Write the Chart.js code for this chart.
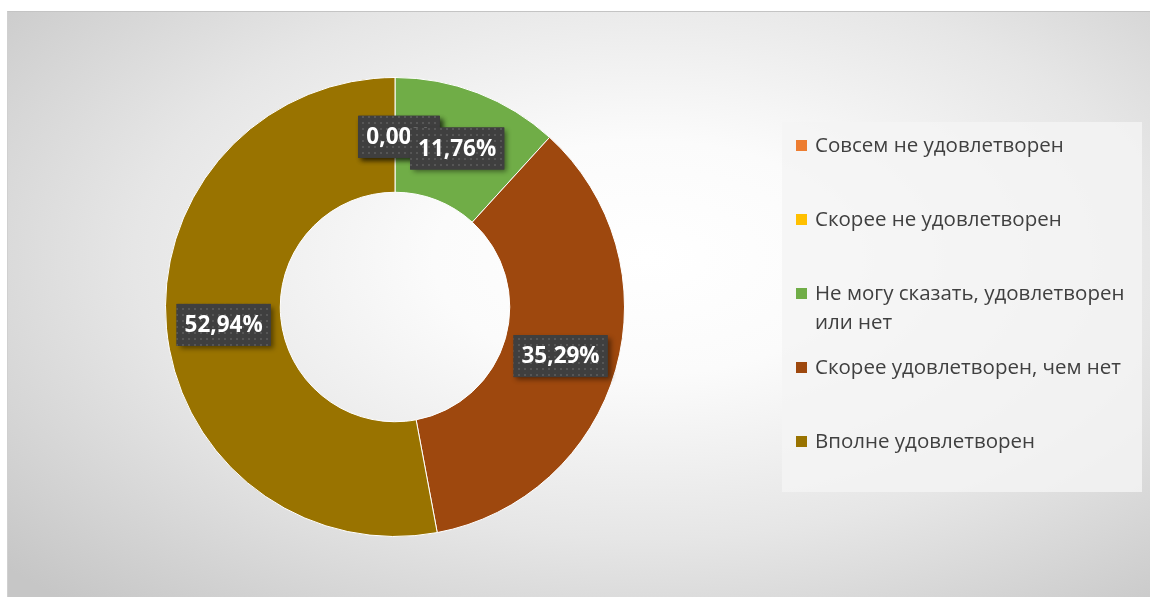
<!DOCTYPE html>
<html>
<head>
<meta charset="utf-8">
<script src="https://cdn.jsdelivr.net/npm/chart.js@4.4.1/dist/chart.umd.min.js"></script>
<style>
  html, body { margin: 0; padding: 0; background: #ffffff; width: 1150px; height: 597px; overflow: hidden; }
  #frame {
    position: absolute; left: 7px; top: 11px; width: 1143px; height: 586px;
    background: radial-gradient(ellipse 75% 80% at 56% 42%, #ffffff 0%, #fbfbfb 25%, #e6e6e6 60%, #c6c6c6 100%);
    border-top: 1px solid #c4c4c4; border-left: 1px solid #d0d0d0; box-sizing: border-box;
  }
  #c { position: absolute; left: 0; top: 0; }
  #legend {
    position: absolute; left: 782px; top: 122px; width: 360px; height: 370px;
    background: rgba(244,244,244,0.82); box-sizing: border-box; padding: 8px 0 0 14px;
    font-family: "Open Sans", "DejaVu Sans", sans-serif; font-size: 20.5px; color: #404040;
  }
  .item { position: relative; height: 74px; padding-left: 19px; line-height: 29px; width: 322px; }
  .sw { position: absolute; left: 0; top: 9.5px; width: 11px; height: 11px; }
</style>
</head>
<body>
<div id="frame"></div>
<canvas id="c" width="1150" height="597"></canvas>
<div id="legend"></div>
<script>
const categories = [
  "Совсем не удовлетворен",
  "Скорее не удовлетворен",
  "Не могу сказать, удовлетворен или нет",
  "Скорее удовлетворен, чем нет",
  "Вполне удовлетворен"
];
const values = [0, 0, 11.76, 35.29, 52.94];
const colors = ["#ED7D31", "#FFC000", "#70AD47", "#9E480E", "#997300"];

function fmt(v) { return v.toFixed(2).replace('.', ',') + '%'; }

// dotted pattern for label boxes
const pc = document.createElement('canvas');
pc.width = 6; pc.height = 6;
const pctx = pc.getContext('2d');
pctx.fillStyle = '#3f3f3f'; pctx.fillRect(0, 0, 6, 6);
pctx.fillStyle = '#565656'; pctx.fillRect(2, 2, 2, 2);

const labelPlugin = {
  id: 'boxLabels',
  afterDatasetsDraw(chart) {
    const ctx = chart.ctx;
    const meta = chart.getDatasetMeta(0);
    const pattern = ctx.createPattern(pc, 'repeat');
    ctx.save();
    ctx.font = 'bold 22.5px "Open Sans", "DejaVu Sans", sans-serif';
    ctx.textAlign = 'center';
    ctx.textBaseline = 'middle';
    meta.data.forEach((arc, i) => {
      const p = arc.tooltipPosition();
      const cx = values[i] === 0 ? p.x + 4 : p.x;
      const txt = fmt(values[i]);
      const w = ctx.measureText(txt).width + 16;
      const h = 42;
      const x = cx - w / 2, y = p.y - h / 2 + 2;
      ctx.save();
      ctx.shadowColor = 'rgba(0,0,0,0.45)';
      ctx.shadowBlur = 5; ctx.shadowOffsetX = 3; ctx.shadowOffsetY = 3;
      ctx.fillStyle = '#404040';
      ctx.fillRect(x, y, w, h);
      ctx.restore();
      ctx.fillStyle = pattern;
      ctx.fillRect(x, y, w, h);
      ctx.fillStyle = '#ffffff';
      ctx.fillText(txt, cx, y + h / 2 + 1);
    });
    ctx.restore();
  }
};

const chart = new Chart(document.getElementById('c'), {
  type: 'doughnut',
  data: {
    labels: categories,
    datasets: [{
      data: values,
      backgroundColor: colors,
      borderColor: '#ffffff',
      borderWidth: 1
    }]
  },
  options: {
    responsive: false,
    animation: false,
    cutout: '50%',
    layout: { padding: { left: 165, right: 525, top: 77, bottom: 60 } },
    plugins: { legend: { display: false }, tooltip: { enabled: false } }
  },
  plugins: [labelPlugin]
});

const lg = document.getElementById('legend');
categories.forEach((c, i) => {
  const d = document.createElement('div');
  d.className = 'item';
  const s = document.createElement('span');
  s.className = 'sw'; s.style.background = colors[i];
  d.appendChild(s);
  d.appendChild(document.createTextNode(c));
  lg.appendChild(d);
});
</script>
</body>
</html>
